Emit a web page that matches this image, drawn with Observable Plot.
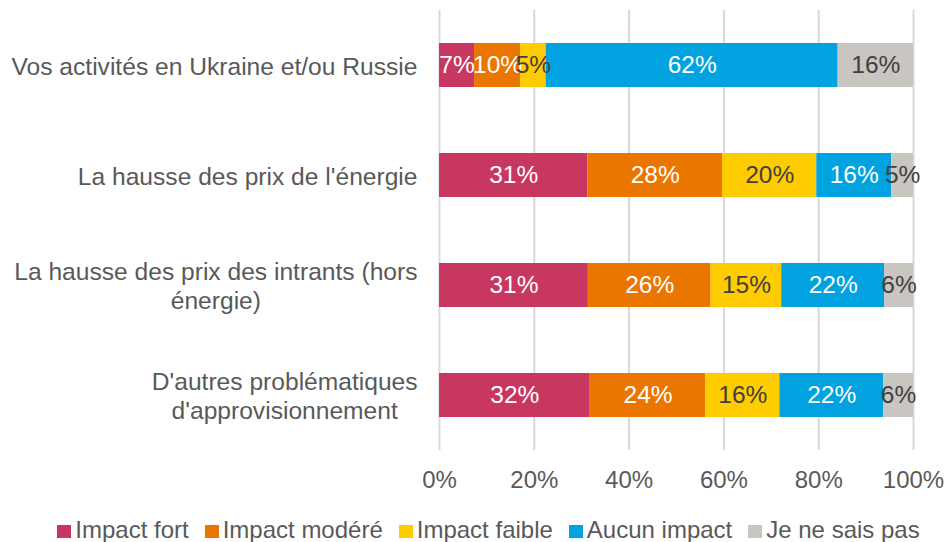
<!DOCTYPE html>
<html>
<head>
<meta charset="utf-8">
<script src="https://cdn.jsdelivr.net/npm/d3@7"></script>
<script src="https://cdn.jsdelivr.net/npm/@observablehq/plot@0.6"></script>
<style>
  body { margin: 0; background: #fff; font-family: "Liberation Sans", Arial, sans-serif; }
  #chart svg { display: block; }
  #legend { display: flex; justify-content: center; padding-left: 31px; padding-top: 18px;
            font-size: 24px; line-height: 24px; color: #595959; white-space: nowrap; }
  #legend .item { display: inline-flex; align-items: baseline; margin: 0 8px; }
  #legend .sw { display: inline-block; width: 14px; height: 13px; margin-right: 4px; }
</style>
</head>
<body>
<div id="chart"></div>
<div id="legend"></div>
<script>
const categories = [
  "Vos activités en Ukraine et/ou Russie",
  "La hausse des prix de l'énergie",
  "La hausse des prix des intrants (hors\nénergie)",
  "D'autres problématiques\nd'approvisionnement"
];
const seriesNames = ["Impact fort", "Impact modéré", "Impact faible", "Aucun impact", "Je ne sais pas"];
const colors = ["#C8375F", "#EA7600", "#FFCC00", "#00A3E0", "#C9C5C0"];
const labelColors = ["#FFFFFF", "#FFFFFF", "#404040", "#FFFFFF", "#404040"];

const impactFort   = [7.4, 31.3, 31.4, 31.8];
const impactModere = [9.7, 28.4, 25.9, 24.4];
const impactFaible = [5.4, 19.9, 14.9, 15.6];
const aucunImpact  = [61.6, 15.8, 21.7, 21.9];
const neSaitPas    = [15.9, 4.6, 6.1, 6.3];
const xTicks = [0, 20, 40, 60, 80, 100];

const seriesValues = [impactFort, impactModere, impactFaible, aucunImpact, neSaitPas];
const data = [];
categories.forEach((c, i) => seriesNames.forEach((s, j) => data.push({category: c, series: s, value: seriesValues[j][i]})));

const chart = Plot.plot({
  width: 946,
  height: 500,
  marginLeft: 439,
  marginRight: 33,
  marginTop: 10,
  marginBottom: 50,
  style: {fontFamily: "Liberation Sans, Arial, sans-serif", fontSize: "24px", color: "#595959", background: "#fff"},
  x: {domain: [0, 100], label: null},
  y: {domain: categories, paddingInner: 0.6, paddingOuter: 0.3, label: null},
  color: {domain: seriesNames, range: colors},
  marks: [
    Plot.gridX(xTicks, {stroke: "#D9D9D9", strokeOpacity: 1, strokeWidth: 2}),
    Plot.barX(data, Plot.stackX({x: "value", y: "category", fill: "series"})),
    Plot.text(data, Plot.stackX({
      x: "value", y: "category", z: "series",
      text: d => Math.round(d.value) + "%",
      fill: d => labelColors[seriesNames.indexOf(d.series)],
      fontSize: 24.5
    })),
    Plot.axisX({ticks: xTicks, tickSize: 0, tickPadding: 20, tickFormat: d => d + "%", fontSize: 24, fill: "#595959", label: null}),
    Plot.axisY({tickSize: 0, tickPadding: 22, lineHeight: 1.15, fontSize: 24.6, fill: "#595959", label: null})
  ]
});
document.getElementById("chart").appendChild(chart);

// centre the lines of multi-line category labels (Excel style)
chart.querySelectorAll('[aria-label="y-axis tick label"] text').forEach(t => {
  const spans = t.querySelectorAll("tspan");
  if (spans.length < 2) return;
  const bb = t.getBBox();
  const cx = bb.x + bb.width / 2;
  t.setAttribute("text-anchor", "middle");
  spans.forEach(s => s.setAttribute("x", cx));
});

const legend = document.getElementById("legend");
seriesNames.forEach((s, i) => {
  const item = document.createElement("span");
  item.className = "item";
  const sw = document.createElement("span");
  sw.className = "sw";
  sw.style.background = colors[i];
  item.appendChild(sw);
  item.appendChild(document.createTextNode(s));
  legend.appendChild(item);
});
</script>
</body>
</html>
